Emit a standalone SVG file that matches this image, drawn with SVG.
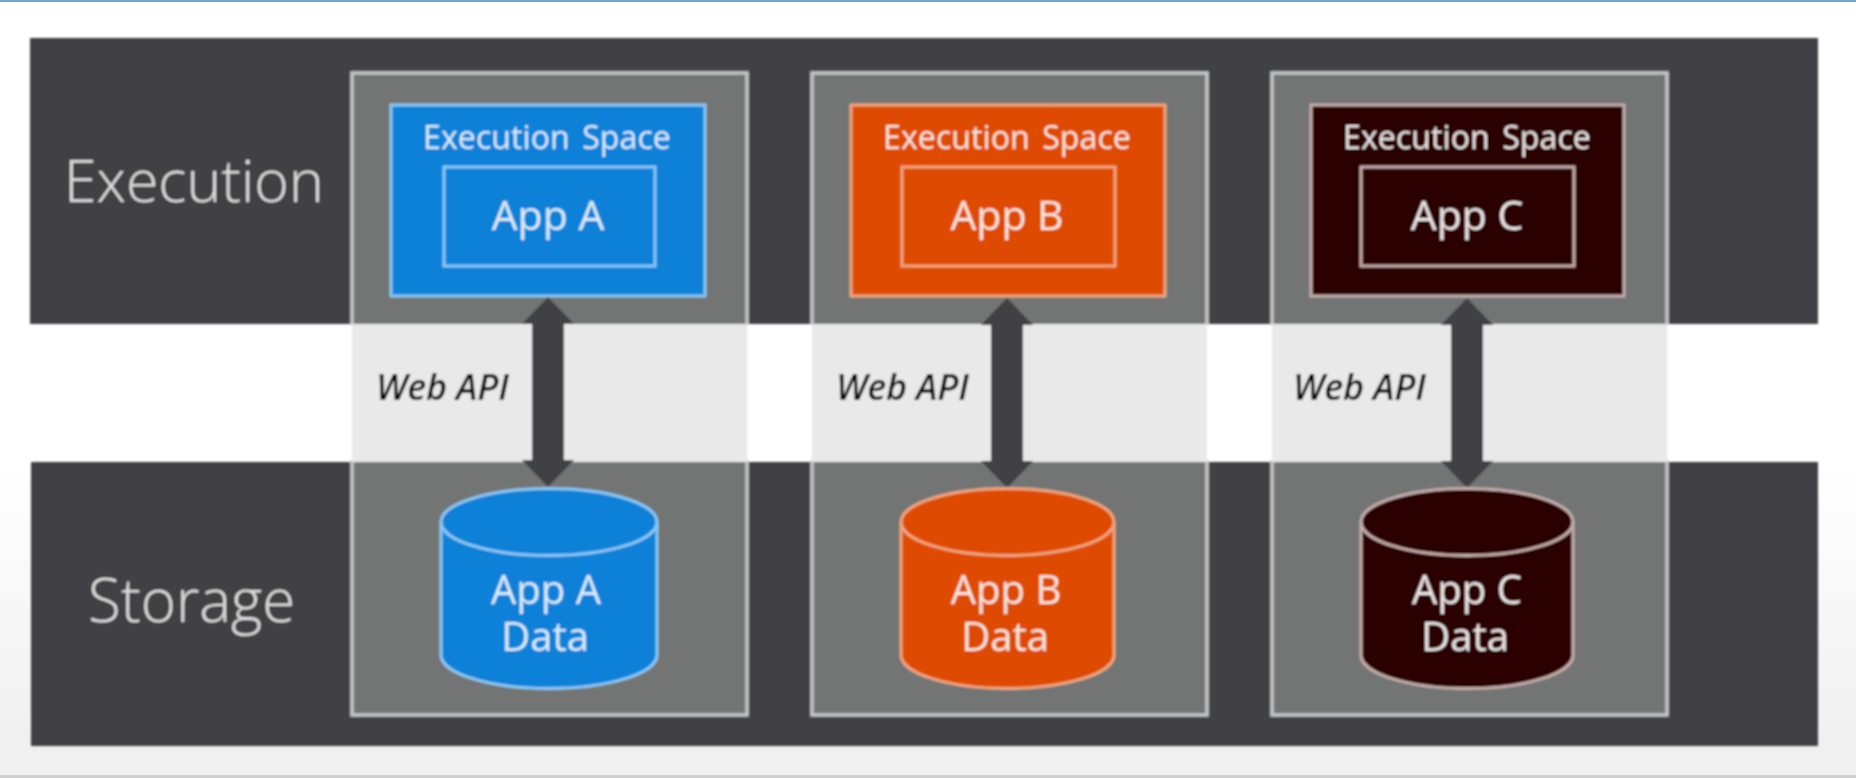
<svg xmlns="http://www.w3.org/2000/svg" width="1856" height="778" viewBox="0 0 1856 778">
  <style>
    text { font-family: "Open Sans", "Liberation Sans", sans-serif; text-anchor: middle; fill: #f2f4f6; }
    .band { fill: #3f4044; }
    .col { fill: #737475; stroke: #c4c5c6; stroke-width: 3.5; }
    .mid { fill: #e9e9e9; }
    .lane { font-size: 59px; font-weight: 300; fill: #dcdcda; text-anchor: start; }
    .space { font-size: 32px; word-spacing: 4px; letter-spacing: 0.1px; }
    .app { font-size: 41px; }
    .data { font-size: 40px; }
    .api { font-size: 36px; font-style: italic; font-weight: 600; letter-spacing: -0.2px; fill: #000000; text-anchor: start; }
    .blue { fill: #0f80d8; stroke: #8cc8f4; }
    .orange { fill: #de4c06; stroke: #f0a67e; }
    .dark { fill: #2a0000; stroke: #c4aeab; }
    .tb { fill: #d8ecfb; }
    .to { fill: #fbe6dc; }
    .td { fill: #ece6e6; }
    .b { stroke-width: 3; }
    .inner { fill: none; stroke-width: 3; }
    .arrow { fill: #3f4044; }
  </style>
  <defs>
    <linearGradient id="page" x1="0" y1="0" x2="0" y2="1">
      <stop offset="0.6" stop-color="#ffffff"/>
      <stop offset="0.96" stop-color="#f0f0f0"/>
    </linearGradient>
    <filter id="soft" x="0" y="0" width="1856" height="778" filterUnits="userSpaceOnUse">
      <feGaussianBlur stdDeviation="0.9"/>
    </filter>
    <path id="dbl" d="M0,-190 L26,-163 L16,-163 L16,-27 L26,-27 L0,0 L-26,-27 L-16,-27 L-16,-163 L-26,-163 Z"/>
  </defs>
  <rect width="1856" height="778" fill="url(#page)"/>
  <rect width="1856" height="2" fill="#6fa6d0"/>
  <rect y="775" width="1856" height="3" fill="#cfcfcf"/>
  <g filter="url(#soft)">
    <g id="execution-lane">
      <rect class="band" x="30" y="38" width="1788" height="286"/>
      <text class="lane" x="64" y="202">Execution</text>
    </g>
    <g id="storage-lane">
      <rect class="band" x="31" y="462" width="1787" height="284"/>
      <text class="lane" x="88" y="622" style="font-size:60px">Storage</text>
    </g>

    <g id="column-a">
      <path class="col" d="M352,325 V73 H747 V325"/>
      <path class="col" d="M352,460 V715 H747 V460"/>
      <rect class="mid" x="352" y="324" width="395" height="138"/>
      <text class="api" x="376" y="400">Web API</text>
    </g>
    <g id="column-b">
      <path class="col" d="M812,325 V73 H1207 V325"/>
      <path class="col" d="M812,460 V715 H1207 V460"/>
      <rect class="mid" x="812" y="324" width="395" height="138"/>
      <text class="api" x="836" y="400">Web API</text>
    </g>
    <g id="column-c">
      <path class="col" d="M1272,325 V73 H1667 V325"/>
      <path class="col" d="M1272,460 V715 H1667 V460"/>
      <rect class="mid" x="1272" y="324" width="395" height="138"/>
      <text class="api" x="1293" y="400">Web API</text>
    </g>

    <g id="exec-a">
      <rect class="blue b" x="391" y="105" width="314" height="191"/>
      <text class="space tb" x="547" y="149">Execution Space</text>
      <rect class="blue inner" x="444" y="167" width="211" height="99"/>
      <text class="app tb" x="548" y="230">App A</text>
    </g>
    <g id="exec-b">
      <rect class="orange b" x="851" y="105" width="314" height="191"/>
      <text class="space to" x="1007" y="149">Execution Space</text>
      <rect class="orange inner" x="902" y="167" width="213" height="99"/>
      <text class="app to" x="1007" y="230">App B</text>
    </g>
    <g id="exec-c">
      <rect class="dark b" x="1311" y="105" width="313" height="191"/>
      <text class="space td" x="1467" y="149">Execution Space</text>
      <rect class="dark inner" x="1361" y="167" width="213" height="99"/>
      <text class="app td" x="1467" y="230">App C</text>
    </g>

    <g id="connectors" class="arrow">
      <use href="#dbl" x="548" y="487"/>
      <use href="#dbl" x="1007" y="488"/>
      <use href="#dbl" x="1467" y="488"/>
    </g>

    <g id="data-a">
      <path class="blue b" d="M441,522 A108,33.5 0 0 1 657,522 L657,655 A108,33.5 0 0 1 441,655 Z"/>
      <path class="blue b" style="fill:none" d="M441,522 A108,33.5 0 0 0 657,522"/>
      <text class="data tb"><tspan x="546" y="604">App A</tspan><tspan x="545" y="651">Data</tspan></text>
    </g>
    <g id="data-b">
      <path class="orange b" d="M901,522 A106.500,33.5 0 0 1 1114,522 L1114,655 A106.500,33.5 0 0 1 901,655 Z"/>
      <path class="orange b" style="fill:none" d="M901,522 A106.500,33.5 0 0 0 1114,522"/>
      <text class="data to"><tspan x="1006" y="604">App B</tspan><tspan x="1005" y="651">Data</tspan></text>
    </g>
    <g id="data-c">
      <path class="dark b" d="M1361,522 A106,33.5 0 0 1 1573,522 L1573,655 A106,33.5 0 0 1 1361,655 Z"/>
      <path class="dark b" style="fill:none" d="M1361,522 A106,33.5 0 0 0 1573,522"/>
      <text class="data td"><tspan x="1467" y="604">App C</tspan><tspan x="1465" y="651">Data</tspan></text>
    </g>
  </g>
</svg>
